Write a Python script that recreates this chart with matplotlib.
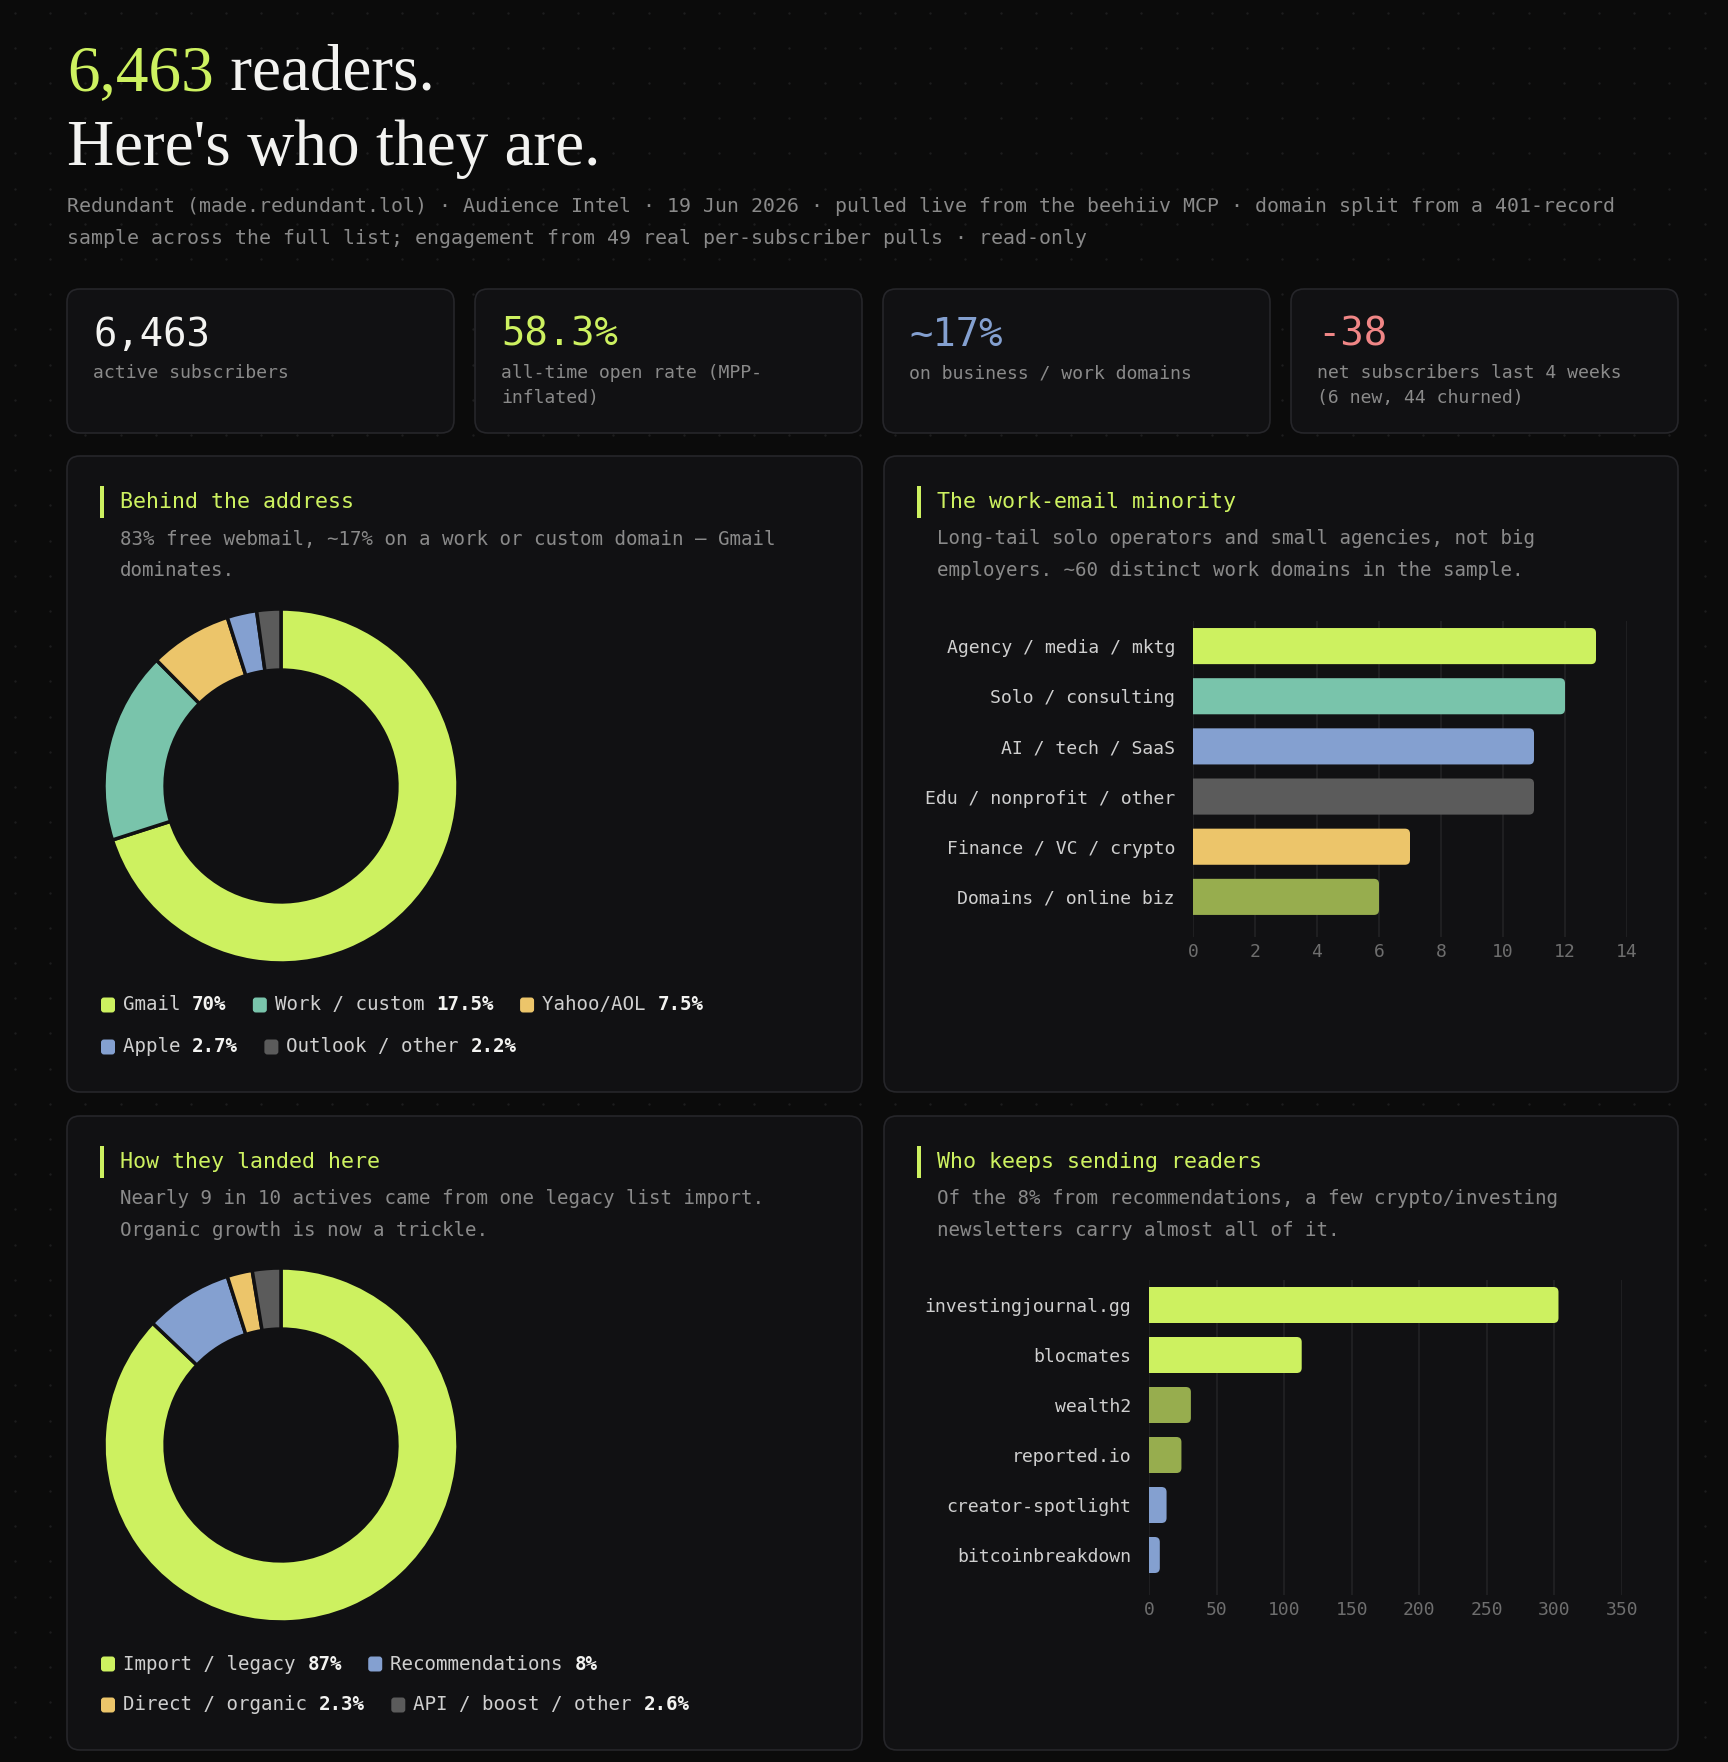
import matplotlib as mpl
import matplotlib.pyplot as plt
from matplotlib.patches import FancyBboxPatch, Rectangle
import numpy as np

# 画布尺寸（像素）
W, H = 1728, 1762
DPI = 100

BG = '#0b0b0b'
PANEL = '#111113'
BORDER = '#26262a'
LIME = '#cdf160'
TEAL = '#79c4ab'
YELLOW = '#ecc56a'
BLUE = '#84a0d0'
GRAY = '#5b5b5b'
OLIVE = '#97ad4e'
RED = '#f08686'
MUTED = '#8a8a8a'
LABEL = '#cfcfcf'
WHITE = '#f3f3f1'

MONO = 'DejaVu Sans Mono'
SERIF = 'Liberation Serif'

mpl.rcParams['font.family'] = [MONO, 'DejaVu Sans']
mpl.rcParams['axes.unicode_minus'] = False

# ---- data ----
headline_count = '6,463'
subtitle_lines = [
    'Redundant (made.redundant.lol) · Audience Intel · 19 Jun 2026 · pulled live from the beehiiv MCP · domain split from a 401-record',
    'sample across the full list; engagement from 49 real per-subscriber pulls · read-only',
]

kpi_values = ['6,463', '58.3%', '~17%', '-38']
kpi_labels = [
    ['active subscribers'],
    ['all-time open rate (MPP-', 'inflated)'],
    ['on business / work domains'],
    ['net subscribers last 4 weeks', '(6 new, 44 churned)'],
]
kpi_colors = [WHITE, LIME, BLUE, RED]

domain_names = ['Gmail', 'Work / custom', 'Yahoo/AOL', 'Apple', 'Outlook / other']
domain_share = [70, 17.5, 7.5, 2.7, 2.2]
domain_colors = [LIME, TEAL, YELLOW, BLUE, GRAY]

work_cats = ['Agency / media / mktg', 'Solo / consulting', 'AI / tech / SaaS',
             'Edu / nonprofit / other', 'Finance / VC / crypto', 'Domains / online biz']
work_counts = [13, 12, 11, 11, 7, 6]
work_colors = [LIME, TEAL, BLUE, GRAY, YELLOW, OLIVE]

source_names = ['Import / legacy', 'Recommendations', 'Direct / organic', 'API / boost / other']
source_share = [87, 8, 2.3, 2.6]
source_colors = [LIME, BLUE, YELLOW, GRAY]

referrers = ['investingjournal.gg', 'blocmates', 'wealth2', 'reported.io',
             'creator-spotlight', 'bitcoinbreakdown']
referrer_subs = [303, 113, 31, 24, 13, 8]
referrer_colors = [LIME, LIME, OLIVE, OLIVE, BLUE, BLUE]

panels = [
    ('Behind the address',
     ['83% free webmail, ~17% on a work or custom domain — Gmail', 'dominates.']),
    ('The work-email minority',
     ['Long-tail solo operators and small agencies, not big',
      'employers. ~60 distinct work domains in the sample.']),
    ('How they landed here',
     ['Nearly 9 in 10 actives came from one legacy list import.',
      'Organic growth is now a trickle.']),
    ('Who keeps sending readers',
     ['Of the 8% from recommendations, a few crypto/investing',
      'newsletters carry almost all of it.']),
]

# ---- figure ----
fig = plt.figure(figsize=(W / DPI, H / DPI), dpi=DPI, facecolor=BG)
bg = fig.add_axes([0, 0, 1, 1], zorder=0)
bg.set_xlim(0, W)
bg.set_ylim(H, 0)
bg.axis('off')


def px_axes(x0, y0, x1, y1):
    return fig.add_axes([x0 / W, 1 - y1 / H, (x1 - x0) / W, (y1 - y0) / H], zorder=2)


def char_w(pt):
    return 0.602 * pt * DPI / 72


def card(x0, y0, x1, y1, r=13):
    bg.add_patch(FancyBboxPatch((x0, y0), x1 - x0, y1 - y0,
                                boxstyle=f'round,pad=0,rounding_size={r}',
                                fc=PANEL, ec=BORDER, lw=1.2, zorder=1))


# 背景点阵
gx, gy = np.meshgrid(np.arange(15, W, 35.2), np.arange(12.5, H, 35.2))
bg.scatter(gx.ravel(), gy.ravel(), s=3, color='#1d1d1e', linewidths=0, zorder=0)

# 标题
renderer = fig.canvas.get_renderer()
t1 = bg.text(67, 90, headline_count, color=LIME, family=SERIF, size=47, va='baseline')
w1 = t1.get_window_extent(renderer).width
bg.text(67 + w1, 90, ' readers.', color=WHITE, family=SERIF, size=47, va='baseline')
bg.text(67, 165, "Here's who they are.", color=WHITE, family=SERIF, size=47, va='baseline')

for i, line in enumerate(subtitle_lines):
    bg.text(67, 206 + i * 32, line, color=MUTED, size=14.3, va='center')

# KPI 卡片
for i, (val, lab, col) in enumerate(zip(kpi_values, kpi_labels, kpi_colors)):
    x0 = 67 + i * 408
    card(x0, 289, x0 + 387, 433)
    bg.text(x0 + 26, 346, val, color=col, size=28, va='baseline')
    for k, line in enumerate(lab):
        bg.text(x0 + 26, 373 + k * 25, line, color=MUTED, size=13.1, va='center')

# 面板
panel_boxes = [(67, 456, 862, 1092), (884, 456, 1678, 1092),
               (67, 1116, 862, 1750), (884, 1116, 1678, 1750)]
for (x0, y0, x1, y1), (title, desc) in zip(panel_boxes, panels):
    card(x0, y0, x1, y1)
    bg.add_patch(Rectangle((x0 + 33, y0 + 30), 4, 32, fc=LIME, ec='none', zorder=2))
    bg.text(x0 + 53, y0 + 46, title, color=LIME, size=15.6, va='center')
    for k, line in enumerate(desc):
        bg.text(x0 + 53, y0 + 83 + k * 31, line, color=MUTED, size=13.75, va='center')


def donut(cx, cy, shares, colors):
    r = 177 * 1.02
    ax = px_axes(cx - r, cy - r, cx + r, cy + r)
    ax.pie(shares, colors=colors, startangle=90, counterclock=False,
           wedgeprops=dict(width=0.345, edgecolor=PANEL, linewidth=2.5))
    ax.set_xlim(-1.02, 1.02)
    ax.set_ylim(-1.02, 1.02)
    ax.set_aspect('equal')
    ax.axis('off')


def legend(names, shares, colors, x0, y0, xmax, row_h, size=13.8):
    cw = char_w(size)
    x, y = x0, y0
    for n, v, c in zip(names, shares, colors):
        lab = n + ' '
        val = f'{v:g}%'
        w = 22 + (len(lab) + len(val)) * cw
        if x + w > xmax and x > x0:
            x, y = x0, y + row_h
        bg.add_patch(FancyBboxPatch((x, y - 7.5), 14, 15, boxstyle='round,pad=0,rounding_size=3',
                                    fc=c, ec='none', zorder=3))
        bg.text(x + 22, y, lab, color=LABEL, size=size, va='center')
        bg.text(x + 22 + len(lab) * cw, y, val, color=WHITE, size=size,
                weight='bold', va='center')
        x += w + 26


def hbar(box, cats, vals, colors, xmax, step):
    x0, y0, x1, y1 = box
    ax = px_axes(x0, y0, x1, y1)
    ax.set_facecolor('none')
    y = np.arange(len(cats))
    ylo, yhi = -0.5, 5.8
    bars = ax.barh(y, vals, height=0.72, color=colors, zorder=3)
    ax.set_xlim(0, xmax)
    ax.set_ylim(yhi, ylo)
    # 圆角条形
    xpx = (x1 - x0) / xmax
    ypx = (y1 - y0) / (yhi - ylo)
    rs = 5 / xpx
    for b, c in zip(bars, colors):
        b.set_visible(False)
        ax.add_patch(FancyBboxPatch((b.get_x() - rs, b.get_y()), b.get_width() + rs, b.get_height(),
                                    boxstyle=f'round,pad=0,rounding_size={rs}',
                                    mutation_aspect=xpx / ypx, fc=c, ec='none', zorder=3))
    ax.set_xticks(np.arange(0, xmax + 1, step))
    ax.set_yticks(y, cats)
    ax.grid(axis='x', color='#222225', lw=1.2)
    ax.set_axisbelow(True)
    for s in ax.spines.values():
        s.set_visible(False)
    ax.tick_params(axis='x', length=0, pad=4, labelsize=13, labelcolor='#6e6e6e')
    ax.tick_params(axis='y', length=0, pad=13, labelsize=13.1, labelcolor=LABEL)


donut(281, 786, domain_share, domain_colors)
legend(domain_names, domain_share, domain_colors, 101, 1005, 830, 42)

hbar((1193, 621, 1627, 937), work_cats, work_counts, work_colors, 14, 2)

donut(281, 1445, source_share, source_colors)
legend(source_names, source_share, source_colors, 101, 1664, 830, 41)

hbar((1149, 1280, 1622, 1595), referrers, referrer_subs, referrer_colors, 350, 50)

fig.savefig('out.png', dpi=DPI, facecolor=BG)
